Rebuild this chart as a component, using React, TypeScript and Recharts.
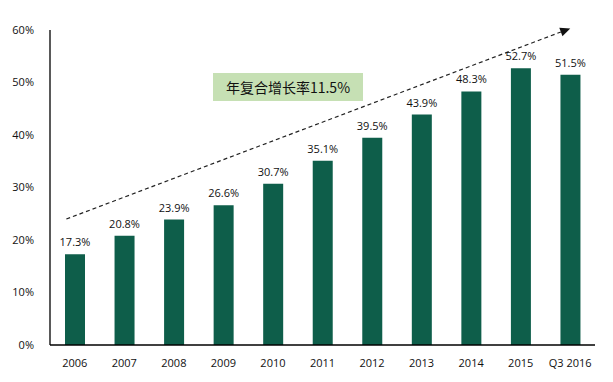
import React from "react";
import { BarChart, Bar, XAxis, YAxis, LabelList, ReferenceLine } from "recharts";

const categories = ["2006", "2007", "2008", "2009", "2010", "2011", "2012", "2013", "2014", "2015", "Q3 2016"];
const values = [17.3, 20.8, 23.9, 26.6, 30.7, 35.1, 39.5, 43.9, 48.3, 52.7, 51.5];
const yTicks = [0, 10, 20, 30, 40, 50, 60];
const cagrLabel = "年复合增长率11.5%";
const trendStart = { x: "2006", y: 24.6 };
const trendEnd = { x: "Q3 2016", y: 60.3 };

const data = categories.map((c, i) => ({ name: c, value: values[i] }));

const FONT = "'Open Sans', 'Noto Sans CJK SC', sans-serif";

const ArrowShape = (props: any) => {
  const { x1, y1, x2, y2 } = props;
  const dx = x2 - x1;
  const dy = y2 - y1;
  const len = Math.sqrt(dx * dx + dy * dy);
  const ux = dx / len;
  const uy = dy / len;
  const ah = 10;
  const aw = 4.5;
  const bx = x2 - ux * ah;
  const by = y2 - uy * ah;
  const px = -uy;
  const py = ux;
  return (
    <g>
      <line x1={x1 - ux * 9} y1={y1 - uy * 9} x2={bx} y2={by} stroke="#222" strokeWidth={1.2} strokeDasharray="4 3" />
      <polygon
        points={`${x2},${y2} ${bx + px * aw},${by + py * aw} ${bx - px * aw},${by - py * aw}`}
        fill="#111"
      />
    </g>
  );
};

export default function App() {
  return (
    <div style={{ position: "absolute", left: 0, top: 0, width: 613, height: 382, background: "#fff" }}>
      <BarChart
        width={613}
        height={382}
        data={data}
        margin={{ top: 30, right: 18, bottom: 7, left: 0 }}
        barSize={20}
      >
        <XAxis
          dataKey="name"
          axisLine={{ stroke: "#000", strokeWidth: 1.3 }}
          tickLine={false}
          tick={{ fontSize: 11, fill: "#111", fontFamily: FONT }}
          tickMargin={8}
          height={30}
          interval={0}
        />
        <YAxis
          domain={[0, 60]}
          ticks={yTicks}
          tickFormatter={(v: number) => `${v}%`}
          axisLine={{ stroke: "#000", strokeWidth: 1.3 }}
          tickLine={false}
          tick={{ fontSize: 11, fill: "#111", fontFamily: FONT }}
          tickMargin={10}
          width={50}
          interval={0}
        />
        <Bar dataKey="value" fill="#0e5e4a" isAnimationActive={false}>
          <LabelList
            dataKey="value"
            position="top"
            offset={8}
            formatter={(v: any) => `${Number(v).toFixed(1)}%`}
            style={{ fontSize: 11, fill: "#111", fontFamily: FONT }}
          />
        </Bar>
        <ReferenceLine
          segment={[trendStart, trendEnd]}
          ifOverflow="visible"
          shape={ArrowShape}
        />
      </BarChart>
      <div
        style={{
          position: "absolute",
          left: 213,
          top: 73,
          width: 150,
          height: 28,
          background: "#c6e0b4",
          display: "flex",
          alignItems: "center",
          justifyContent: "center",
          fontFamily: "'Noto Sans CJK SC', sans-serif",
          fontSize: 14,
          color: "#111",
        }}
      >
        {cagrLabel}
      </div>
    </div>
  );
}
